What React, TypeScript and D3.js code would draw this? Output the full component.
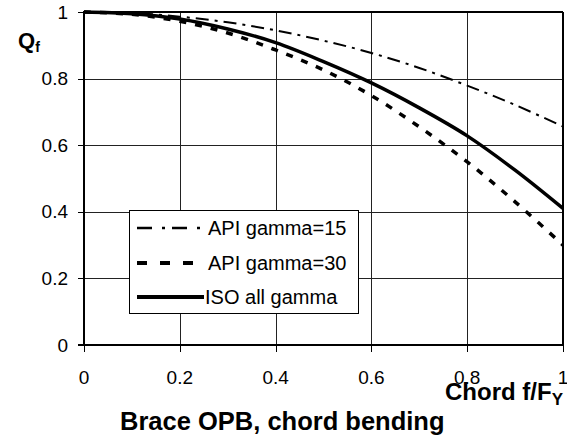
import React from "react";
import * as d3 from "d3";

const xValues = [0, 0.1, 0.2, 0.3, 0.4, 0.5, 0.6, 0.7, 0.8, 0.9, 1.0];
const api15 = [1.0, 0.997, 0.986, 0.969, 0.945, 0.914, 0.877, 0.832, 0.779, 0.721, 0.656];
const api30 = [1.0, 0.993, 0.972, 0.937, 0.886, 0.826, 0.749, 0.655, 0.55, 0.43, 0.3];
const iso = [1.0, 0.995, 0.979, 0.949, 0.908, 0.851, 0.787, 0.712, 0.628, 0.525, 0.41];
const xTicks = [0, 0.2, 0.4, 0.6, 0.8, 1];
const yTicks = [0, 0.2, 0.4, 0.6, 0.8, 1];
const seriesNames = ["API gamma=15", "API gamma=30", "ISO all gamma"];

const FONT = "'Liberation Sans', Arial, Helvetica, sans-serif";

export default function App() {
  const W = 567, H = 440;
  const x = d3.scaleLinear().domain([0, 1]).range([84, 563]);
  const y = d3.scaleLinear().domain([0, 1]).range([345, 12]);
  const line = (vals: number[]) =>
    d3.line<number>()
      .x((_, i) => x(xValues[i]))
      .y((v) => y(v))
      .curve(d3.curveCatmullRom.alpha(0.5))(vals) as string;

  const styles = [
    { w: 2, dash: "13,6,3,6" },
    { w: 3.5, dash: "7,9" },
    { w: 3.5, dash: "" },
  ];
  const legendDash = ["15,10,3,7", "10,13", ""];
  const series = [api15, api30, iso];
  const legendRowsY = [228, 263, 297];

  return (
    <svg width={W} height={H} style={{ position: "absolute", left: 0, top: 0, background: "#fff" }}
      fontFamily={FONT}>
      <rect x={0} y={0} width={W} height={H} fill="#fff" />
      {xTicks.slice(1, -1).map((t) => (
        <line key={"gx" + t} x1={Math.round(x(t)) + 0.5} x2={Math.round(x(t)) + 0.5} y1={y(1)} y2={y(0)} stroke="#222" strokeWidth={1} />
      ))}
      {yTicks.slice(1, -1).map((t) => (
        <line key={"gy" + t} x1={x(0)} x2={x(1)} y1={Math.round(y(t)) + 0.5} y2={Math.round(y(t)) + 0.5} stroke="#222" strokeWidth={1} />
      ))}
      <line x1={x(0)} x2={x(1)} y1={y(1)} y2={y(1)} stroke="#000" strokeWidth={2} />
      <line x1={x(1)} x2={x(1)} y1={y(1)} y2={y(0)} stroke="#000" strokeWidth={2} />
      <line x1={x(0)} x2={x(0)} y1={y(1) - 1} y2={y(0)} stroke="#000" strokeWidth={2} />
      <line x1={x(0) - 6} x2={x(1)} y1={y(0)} y2={y(0)} stroke="#000" strokeWidth={2} />
      {yTicks.map((t) => (
        <g key={"yt" + t}>
          <line x1={x(0) - 6} x2={x(0)} y1={Math.round(y(t)) + 0.5} y2={Math.round(y(t)) + 0.5} stroke="#000" strokeWidth={1} />
          <text x={68} y={y(t) + 6.5} fontSize={19} textAnchor="end" fill="#000">{String(t)}</text>
        </g>
      ))}
      {xTicks.map((t) => (
        <g key={"xt" + t}>
          <line x1={Math.round(x(t)) + 0.5} x2={Math.round(x(t)) + 0.5} y1={y(0)} y2={y(0) + 7} stroke="#000" strokeWidth={1} />
          <text x={x(t)} y={384} fontSize={19} textAnchor="middle" fill="#000">{String(t)}</text>
        </g>
      ))}
      {series.map((s, i) => (
        <path key={"s" + i} d={line(s)} fill="none" stroke="#000" strokeWidth={styles[i].w}
          strokeDasharray={styles[i].dash || undefined} />
      ))}
      <rect x={129.5} y={210.5} width={229} height={103} fill="#fff" stroke="#000" strokeWidth={1} />
      {seriesNames.map((n, i) => (
        <g key={"lg" + i}>
          <line x1={137} x2={i === 2 ? 204 : 202} y1={legendRowsY[i]} y2={legendRowsY[i]} stroke="#000"
            strokeWidth={i === 0 ? 2.5 : 4} strokeDasharray={legendDash[i] || undefined} />
          <text x={i === 2 ? 205 : 208} y={legendRowsY[i] + 7} fontSize={20} fill="#000">{n}</text>
        </g>
      ))}
      <text x={18} y={48} fontSize={22} fontWeight="bold" fill="#000">
        Q<tspan fontSize={14} dy={4}>f</tspan>
      </text>
      <text x={563} y={400} fontSize={24} fontWeight="bold" fill="#000" textAnchor="end">
        Chord f/F<tspan fontSize={17} dy={5}>Y</tspan>
      </text>
      <text x={120} y={430} fontSize={25.5} fontWeight="bold" fill="#000">Brace OPB, chord bending</text>
    </svg>
  );
}
